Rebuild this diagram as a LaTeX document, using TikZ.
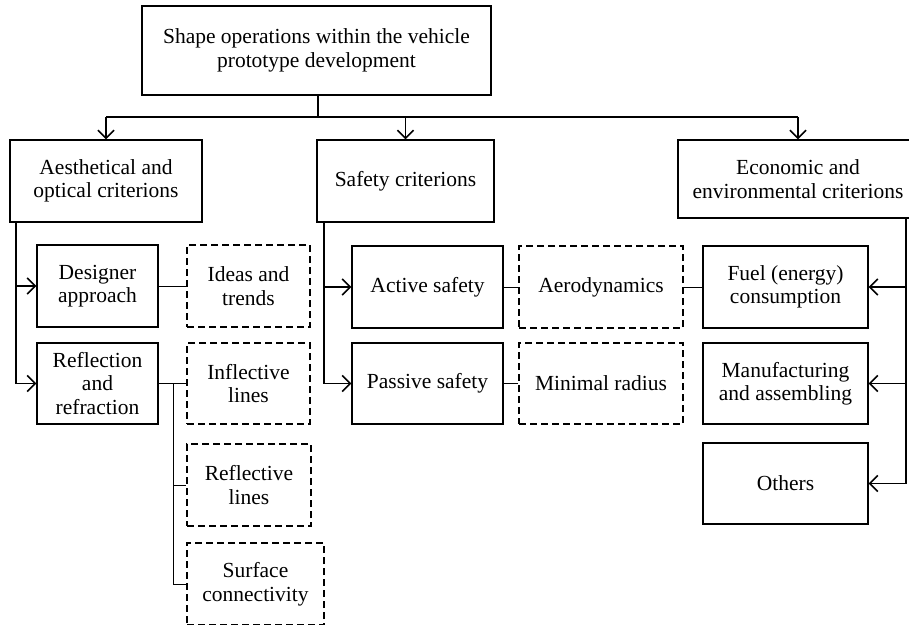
\documentclass[tikz,border=0pt]{standalone}
\usepackage{fontspec}
\setmainfont{Liberation Serif}
\usetikzlibrary{arrows.meta}
\begin{document}
\begin{tikzpicture}[x=1pt,y=-1pt,
  font=\fontsize{21.5}{23.5}\selectfont,
  box/.style={draw, line width=1.3pt, align=center, inner sep=0pt, minimum width=#1},
  dbox/.style={box=#1, dashed, dash pattern=on 7pt off 4pt},
  conn/.style={line width=1.8pt},
  thin/.style={line width=0.9pt},
  arr/.style={conn, -{Straight Barb[length=8pt,width=16pt,line width=1.6pt]}}]
\useasboundingbox (0,0) rectangle (909,624);
\clip (0,0) rectangle (909,624);
% top
\node[box=349pt, minimum height=89pt] (top) at (316.5,50.5) {Shape operations within the vehicle\\prototype development};
% level 1
\node[box=192pt, minimum height=82pt] (aes) at (106,181) {Aesthetical and\\optical criterions};
\node[box=177pt, minimum height=82pt] (saf) at (405.5,181) {Safety criterions};
\node[box=240pt, minimum height=78pt] (eco) at (798,179) {Economic and\\environmental criterions};
% left column
\node[box=121pt, minimum height=82pt] (des) at (97.5,286) {Designer\\approach};
\node[box=121pt, minimum height=81pt] (ref) at (97.5,383.5) {Reflection\\and\\refraction};
\node[dbox=123pt, minimum height=82pt] (ideas) at (248.5,286) {Ideas and\\trends};
\node[dbox=123pt, minimum height=81pt] (infl) at (248.5,383.5) {Inflective\\lines};
\node[dbox=124pt, minimum height=82pt] (refl) at (249,485) {Reflective\\lines};
\node[dbox=137pt, minimum height=82pt] (surf) at (255.5,584) {Surface\\connectivity};
% middle
\node[box=151pt, minimum height=82pt] (act) at (427.5,287) {Active safety};
\node[box=151pt, minimum height=81pt] (pas) at (427.5,383.5) {Passive safety};
\node[dbox=164pt, minimum height=82pt] (aero) at (601,287) {Aerodynamics};
\node[dbox=164pt, minimum height=81pt] (minr) at (601,383.5) {Minimal radius};
% right
\node[box=165pt, minimum height=82pt] (fuel) at (785.5,287) {Fuel (energy)\\consumption};
\node[box=165pt, minimum height=81pt] (manu) at (785.5,383.5) {Manufacturing\\and assembling};
\node[box=165pt, minimum height=81pt] (oth) at (785.5,483.5) {Others};
% coordinates
\coordinate (tj) at (318,117);
\coordinate (tl) at (aes.north |- tj);
\coordinate (tm) at (saf.north |- tj);
\coordinate (tr) at (eco.north |- tj);
\coordinate (al) at (16,222);
\coordinate (sl) at (324,222);
\coordinate (er) at (906,218);
\coordinate (rj) at (173,383.5);
% top connectors
\draw[conn] (top.south -| tj) -- (tj);
\draw[conn] (tl) -- (tr);
\draw[arr] (tl) -- (aes.north);
\draw[arr] (tm) -- (saf.north);
\draw[arr] (tr) -- (eco.north);
% aesthetical branch
\draw[conn] (al) -- (al |- ref.west);
\draw[arr] (al |- des.west) -- (des.west);
\draw[arr] (al |- ref.west) -- (ref.west);
\draw[thin] (des.east) -- (ideas.west);
\draw[thin] (ref.east) -- (infl.west);
\draw[thin] (rj) -- (rj |- surf.west) -- (surf.west);
\draw[thin] (rj |- refl.west) -- (refl.west);
% safety branch
\draw[conn] (sl) -- (sl |- pas.west);
\draw[arr] (sl |- act.west) -- (act.west);
\draw[arr] (sl |- pas.west) -- (pas.west);
\draw[thin] (act.east) -- (aero.west);
\draw[thin] (aero.east) -- (fuel.west);
\draw[thin] (pas.east) -- (minr.west);
% economic branch
\draw[conn] (er) -- (er |- oth.east);
\draw[arr] (er |- fuel.east) -- (fuel.east);
\draw[arr] (er |- manu.east) -- (manu.east);
\draw[arr] (er |- oth.east) -- (oth.east);
\end{tikzpicture}
\end{document}
